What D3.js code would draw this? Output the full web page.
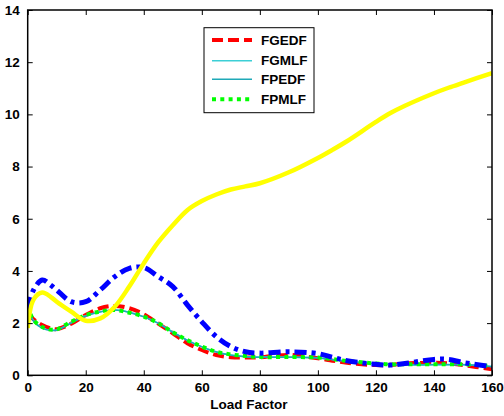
<!DOCTYPE html>
<html>
<head>
<meta charset="utf-8">
<script src="https://cdn.jsdelivr.net/npm/d3@7"></script>
<style>
  body { margin: 0; background: #fff; }
  text { font-family: "Liberation Sans", Arial, sans-serif; font-weight: bold; }
</style>
</head>
<body>
<svg id="chart" width="504" height="416"></svg>
<script>
"use strict";

// x positions (load factor) shared by all series
const loadFactor = [0, 2, 5, 8, 10, 15, 20, 25, 30, 35, 40, 45, 50, 55, 60, 65, 70, 75, 80, 90, 100, 105, 110, 120, 125, 130, 140, 145, 150, 160];

const fgedf = [2.38, 2.15, 1.93, 1.8, 1.77, 1.98, 2.31, 2.57, 2.66, 2.57, 2.34, 1.98, 1.61, 1.23, 0.97, 0.78, 0.69, 0.68, 0.69, 0.78, 0.65, 0.56, 0.48, 0.39, 0.4, 0.45, 0.48, 0.46, 0.39, 0.23];
const fgmlf = [2.6, 2.1, 1.82, 1.73, 1.74, 2.02, 2.28, 2.44, 2.5, 2.42, 2.25, 2.0, 1.66, 1.35, 1.1, 0.9, 0.78, 0.72, 0.7, 0.7, 0.67, 0.61, 0.55, 0.45, 0.42, 0.41, 0.41, 0.41, 0.41, 0.34];
const fpedf = [2.55, 2.08, 1.8, 1.72, 1.73, 2.0, 2.27, 2.43, 2.5, 2.41, 2.24, 1.99, 1.65, 1.34, 1.09, 0.89, 0.77, 0.71, 0.69, 0.69, 0.66, 0.6, 0.54, 0.44, 0.41, 0.4, 0.4, 0.4, 0.4, 0.33];
const fpmlf = [2.65, 2.12, 1.85, 1.75, 1.76, 2.05, 2.3, 2.45, 2.5, 2.4, 2.25, 2.0, 1.65, 1.35, 1.1, 0.9, 0.8, 0.74, 0.7, 0.7, 0.68, 0.62, 0.55, 0.45, 0.42, 0.42, 0.42, 0.42, 0.42, 0.35];
const blueSeries = [2.55, 3.27, 3.65, 3.45, 3.27, 2.82, 2.82, 3.27, 3.78, 4.1, 4.13, 3.78, 3.4, 2.7, 2.05, 1.48, 1.1, 0.9, 0.85, 0.9, 0.83, 0.69, 0.56, 0.42, 0.39, 0.45, 0.61, 0.61, 0.49, 0.33];
const yellowSeries = [1.81, 2.9, 3.17, 3.0, 2.82, 2.44, 2.09, 2.18, 2.63, 3.4, 4.29, 5.1, 5.75, 6.33, 6.68, 6.93, 7.12, 7.24, 7.36, 7.78, 8.33, 8.64, 8.97, 9.71, 10.05, 10.33, 10.81, 11.02, 11.21, 11.58];

const xTicks = [0, 20, 40, 60, 80, 100, 120, 140, 160];
const yTicks = [0, 2, 4, 6, 8, 10, 12, 14];
const legendNames = ["FGEDF", "FGMLF", "FPEDF", "FPMLF"];

const svg = d3.select("#chart");
const plot = { left: 27.7, right: 492, top: 10, bottom: 375.3 };

const x = d3.scaleLinear().domain([0, 160]).range([plot.left, plot.right]);
const y = d3.scaleLinear().domain([0, 14]).range([plot.bottom, plot.top]);

/* series styles, drawn in this order */
const series = [
  { values: fgedf, color: "#ff0000", width: 4, dash: "11,5" },
  { values: fgmlf, color: "#3ccfd6", width: 1.5, dash: null },
  { values: fpedf, color: "#1fa9b8", width: 1.5, dash: null },
  { values: fpmlf, color: "#00ff00", width: 4, dash: "4,4.3" },
  { values: blueSeries, color: "#0000ff", width: 5, dash: "12,5,4,5" },
  { values: yellowSeries, color: "#ffff00", width: 4.5, dash: null }
];

const line = d3.line()
  .x((d, i) => x(loadFactor[i]))
  .y(d => y(d))
  .curve(d3.curveCatmullRom.alpha(0.5));

svg.append("clipPath").attr("id", "clip")
  .append("rect")
  .attr("x", plot.left).attr("y", plot.top)
  .attr("width", plot.right - plot.left).attr("height", plot.bottom - plot.top);

const g = svg.append("g").attr("clip-path", "url(#clip)");
series.forEach(s => {
  g.append("path")
    .attr("d", line(s.values))
    .attr("fill", "none")
    .attr("stroke", s.color)
    .attr("stroke-width", s.width)
    .attr("stroke-dasharray", s.dash);
});

/* axes: ticks inward on all four sides */
const tickLen = 5;
svg.append("g")
  .attr("transform", `translate(0,${plot.bottom})`)
  .call(d3.axisBottom(x).tickValues(xTicks).tickSizeInner(-tickLen).tickSizeOuter(0).tickPadding(7))
  .call(a => a.select(".domain").remove());
svg.append("g")
  .attr("transform", `translate(0,${plot.top})`)
  .call(d3.axisTop(x).tickValues(xTicks).tickSizeInner(-tickLen).tickSizeOuter(0).tickFormat(""))
  .call(a => a.select(".domain").remove());
svg.append("g")
  .attr("transform", `translate(${plot.left},0)`)
  .call(d3.axisLeft(y).tickValues(yTicks).tickSizeInner(-tickLen).tickSizeOuter(0).tickPadding(8))
  .call(a => a.select(".domain").remove());
svg.append("g")
  .attr("transform", `translate(${plot.right},0)`)
  .call(d3.axisRight(y).tickValues(yTicks).tickSizeInner(-tickLen).tickSizeOuter(0).tickFormat(""))
  .call(a => a.select(".domain").remove());

svg.selectAll(".tick line").attr("stroke", "#000").attr("stroke-width", 1);
svg.selectAll(".tick text").attr("fill", "#000").style("font-size", "13.5px");

svg.append("rect")
  .attr("x", plot.left).attr("y", plot.top)
  .attr("width", plot.right - plot.left).attr("height", plot.bottom - plot.top)
  .attr("fill", "none").attr("stroke", "#000").attr("stroke-width", 1.5);

svg.append("text")
  .attr("x", 249).attr("y", 409)
  .attr("text-anchor", "middle")
  .style("font-size", "13.5px")
  .text("Load Factor");

/* legend (first four series only) */
const legend = svg.append("g");
legend.append("rect")
  .attr("x", 204).attr("y", 27.7).attr("width", 110).attr("height", 85)
  .attr("fill", "#fff").attr("stroke", "#000").attr("stroke-width", 1);
legendNames.forEach((name, i) => {
  const s = series[i];
  const ly = [40, 60.7, 79.3, 99.3][i];
  legend.append("line")
    .attr("x1", 212).attr("x2", 252).attr("y1", ly).attr("y2", ly)
    .attr("stroke", s.color).attr("stroke-width", s.width)
    .attr("stroke-dasharray", s.dash);
  legend.append("text")
    .attr("x", 261).attr("y", ly + 4.5)
    .style("font-size", "13.5px")
    .text(name);
});
</script>
</body>
</html>
